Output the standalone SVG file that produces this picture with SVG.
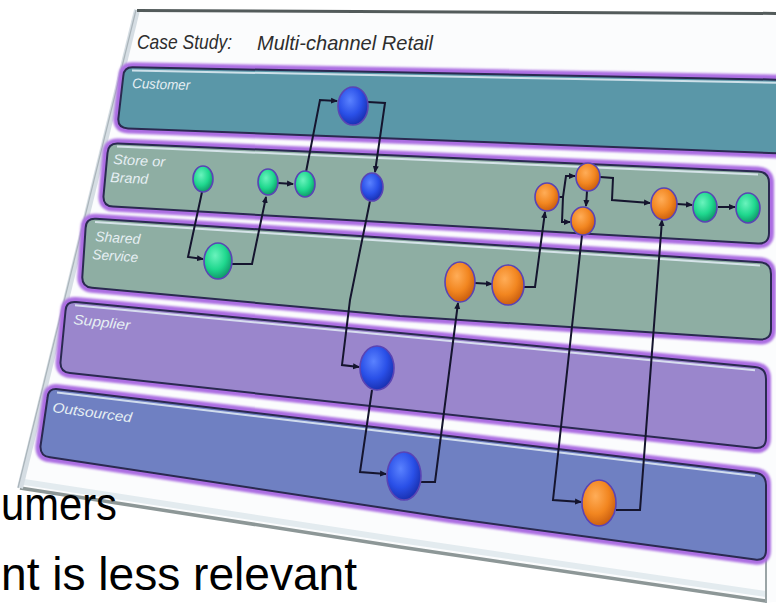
<svg xmlns="http://www.w3.org/2000/svg" width="776" height="613" viewBox="0 0 776 613">
  <defs>
    <style>
      .lane-name { font-family: "Liberation Sans", Arial, sans-serif; font-style: italic; font-size: 14px; fill: #e6eff3; }
      .title { font-family: "Liberation Sans", Arial, sans-serif; font-style: italic; font-size: 21px; fill: #2e2e2e; }
      .body { font-family: "Liberation Sans", Arial, sans-serif; font-size: 46px; fill: #000; }
      .glow { fill: none; stroke: #ac6ee2; stroke-width: 10; filter: url(#soft); }
      .lane { stroke: #2a2a50; stroke-width: 2; stroke-linejoin: round; }
      .hl { fill: none; stroke: #e2ecf4; stroke-width: 2; opacity: 0.85; }
      .wire { fill: none; stroke: #15152e; stroke-width: 2; stroke-linejoin: miter; marker-end: url(#ah); }
      .node { stroke: #5a44b4; stroke-width: 1.6; }
      .g { fill: url(#gGreen); }
      .b { fill: url(#gBlue); }
      .o { fill: url(#gOrange); }
    </style>
    <filter id="soft" x="-5%" y="-30%" width="110%" height="160%">
      <feGaussianBlur stdDeviation="1.3"/>
    </filter>
    <radialGradient id="gGreen" cx="40%" cy="35%" r="65%">
      <stop offset="0" stop-color="#6af3bd"/>
      <stop offset="0.6" stop-color="#1fd88e"/>
      <stop offset="1" stop-color="#119a6a"/>
    </radialGradient>
    <radialGradient id="gBlue" cx="40%" cy="35%" r="65%">
      <stop offset="0" stop-color="#5a82ff"/>
      <stop offset="0.6" stop-color="#2a50e8"/>
      <stop offset="1" stop-color="#1a32b4"/>
    </radialGradient>
    <radialGradient id="gOrange" cx="40%" cy="35%" r="65%">
      <stop offset="0" stop-color="#ffad58"/>
      <stop offset="0.6" stop-color="#f28620"/>
      <stop offset="1" stop-color="#cc6010"/>
    </radialGradient>
    <marker id="ah" markerWidth="7" markerHeight="7" refX="6" refY="3.5" orient="auto" markerUnits="userSpaceOnUse">
      <path d="M0,0.5 L7,3.5 L0,6.5 Z" fill="#15152e"/>
    </marker>
  </defs>

  <rect width="776" height="613" fill="#ffffff"/>

  <!-- slide sheet seen at an angle -->
  <g id="slide">
    <polygon points="137,10 790,12 790,600 766,603 20,488" fill="#fbfcfd"/>
    <polyline points="20,488 400,547 766,601" fill="none" stroke="#8d9797" stroke-width="3.5"/>
    <polyline points="24,482 400,540 766,594" fill="none" stroke="#e3ebef" stroke-width="6"/>
    <line x1="137" y1="10" x2="20" y2="488" stroke="#d5dde3" stroke-width="6"/>
    <line x1="136" y1="10" x2="18" y2="488" stroke="#aab4ba" stroke-width="1.2"/>
    <line x1="766" y1="540" x2="766" y2="603" stroke="#9aa4a6" stroke-width="2"/>
    <line x1="137" y1="10.5" x2="790" y2="13.5" stroke="#535b5b" stroke-width="3"/>
    <text class="title" x="137" y="49" textLength="95" lengthAdjust="spacingAndGlyphs">Case Study:</text>
    <text class="title" x="257" y="50" textLength="176" lengthAdjust="spacingAndGlyphs">Multi-channel Retail</text>
  </g>

  <!-- swim lanes -->
  <g id="lane-customer">
    <path class="glow" d="M133,67.3 L795,80 L795,154 L128,128.4 Q118,128 118.3,119 L123.3,76 Q124,67 133,67.3 Z"/>
    <path class="lane" fill="#5a97a8" d="M133,67.3 L795,80 L795,154 L128,128.4 Q118,128 118.3,119 L123.3,76 Q124,67 133,67.3 Z"/>
    <path class="hl" d="M132,70.5 L795,83.2"/>
    <text class="lane-name" x="132" y="88" textLength="58" lengthAdjust="spacingAndGlyphs" transform="rotate(2 132 88)">Customer</text>
  </g>
  <g id="lane-store">
    <path class="glow" d="M118,143.4 L758,171.4 Q769,172 769,183 L769,233 Q769,244 758,243.5 L113,206.6 Q103,206 103.5,196 L107.5,153 Q108,143 118,143.4 Z"/>
    <path class="lane" fill="#8eaea3" d="M118,143.4 L758,171.4 Q769,172 769,183 L769,233 Q769,244 758,243.5 L113,206.6 Q103,206 103.5,196 L107.5,153 Q108,143 118,143.4 Z"/>
    <path class="hl" d="M117,146.6 L758,174.6"/>
    <text class="lane-name" x="113" y="164" textLength="52" lengthAdjust="spacingAndGlyphs" transform="rotate(3 113 164)">Store or</text>
    <text class="lane-name" x="110" y="182" textLength="38" lengthAdjust="spacingAndGlyphs" transform="rotate(3 110 182)">Brand</text>
  </g>
  <g id="lane-shared">
    <path class="glow" d="M96,218.7 L760,262.3 Q771,263 771,274 L771,329 Q771,340 760,339.4 L400,316 L92,287.8 Q82,287 82.3,277 L85.6,228 Q86,218 96,218.7 Z"/>
    <path class="lane" fill="#8eaea3" d="M96,218.7 L760,262.3 Q771,263 771,274 L771,329 Q771,340 760,339.4 L400,316 L92,287.8 Q82,287 82.3,277 L85.6,228 Q86,218 96,218.7 Z"/>
    <path class="hl" d="M95,221.9 L760,265.5"/>
    <text class="lane-name" x="95" y="241" textLength="45" lengthAdjust="spacingAndGlyphs" transform="rotate(4 95 241)">Shared</text>
    <text class="lane-name" x="92" y="259" textLength="46" lengthAdjust="spacingAndGlyphs" transform="rotate(4 92 259)">Service</text>
  </g>
  <g id="lane-supplier">
    <path class="glow" d="M76,302 L755,367 Q766,368 766,379 L766,438 Q766,449 755,448 L70,373 Q60,372 60.5,362 L65.5,311 Q66,301 76,302 Z"/>
    <path class="lane" fill="#9a86cc" d="M76,302 L755,367 Q766,368 766,379 L766,438 Q766,449 755,448 L70,373 Q60,372 60.5,362 L65.5,311 Q66,301 76,302 Z"/>
    <path class="hl" d="M75,305.2 L755,370.2"/>
    <text class="lane-name" x="73" y="324" textLength="57" lengthAdjust="spacingAndGlyphs" transform="rotate(6 73 324)">Supplier</text>
  </g>
  <g id="lane-outsourced">
    <path class="glow" d="M58,389.2 L755,472.7 Q766,474 766,485 L766,550 Q766,561 755,559.5 L450,518 L50,457.3 Q40,456 40.5,446 L47.5,398 Q48,388 58,389.2 Z"/>
    <path class="lane" fill="#6f80c2" d="M58,389.2 L755,472.7 Q766,474 766,485 L766,550 Q766,561 755,559.5 L450,518 L50,457.3 Q40,456 40.5,446 L47.5,398 Q48,388 58,389.2 Z"/>
    <path class="hl" d="M57,392.4 L755,475.9"/>
    <text class="lane-name" x="52" y="412" textLength="80" lengthAdjust="spacingAndGlyphs" transform="rotate(7.5 52 412)">Outsourced</text>
  </g>

  <!-- process flow connectors -->
  <g id="connectors">
    <polyline class="wire" points="202,192 188,257 203,259"/>
    <polyline class="wire" points="232,264 252,264 266,197"/>
    <polyline class="wire" points="278,183 293,184"/>
    <polyline class="wire" points="306,172 320,100 337,101"/>
    <polyline class="wire" points="368,102 385,103 375,172"/>
    <polyline class="wire" points="370,201 350,300 342,365 359,367"/>
    <polyline class="wire" points="372,390 360,472 386,474"/>
    <polyline class="wire" points="421,482 435,482 458,303"/>
    <polyline class="wire" points="475,283 492,284"/>
    <polyline class="wire" points="524,287 535,287 545,212"/>
    <polyline class="wire" points="559,197 563,197 566,176 575,176"/>
    <polyline class="wire" points="563,197 562,222 570,222"/>
    <polyline class="wire" points="587,191 586,206"/>
    <polyline class="wire" points="600,177 613,178 612,200 650,203"/>
    <polyline class="wire" points="677,204 692,205"/>
    <polyline class="wire" points="718,207 735,207"/>
    <polyline class="wire" points="582,235 553,500 581,502"/>
    <polyline class="wire" points="616,510 640,510 662,220"/>
  </g>

  <!-- process steps -->
  <g id="n-customer"><ellipse class="node b" cx="353" cy="106" rx="15" ry="19"/></g>
  <g id="n-store-1"><ellipse class="node g" cx="203" cy="179" rx="10" ry="13"/></g>
  <g id="n-store-2"><ellipse class="node g" cx="268" cy="182" rx="10" ry="13"/></g>
  <g id="n-store-3"><ellipse class="node g" cx="305" cy="184" rx="10" ry="13"/></g>
  <g id="n-store-4"><ellipse class="node b" cx="372" cy="187" rx="11" ry="14"/></g>
  <g id="n-store-5"><ellipse class="node o" cx="547" cy="197" rx="12" ry="14"/></g>
  <g id="n-store-6"><ellipse class="node o" cx="588" cy="177" rx="12" ry="14"/></g>
  <g id="n-store-7"><ellipse class="node o" cx="583" cy="221" rx="12" ry="14"/></g>
  <g id="n-store-8"><ellipse class="node o" cx="664" cy="204" rx="13" ry="16"/></g>
  <g id="n-store-9"><ellipse class="node g" cx="705" cy="207" rx="12" ry="15"/></g>
  <g id="n-store-10"><ellipse class="node g" cx="748" cy="208" rx="12" ry="15"/></g>
  <g id="n-shared-1"><ellipse class="node g" cx="218" cy="261" rx="14" ry="18"/></g>
  <g id="n-shared-2"><ellipse class="node o" cx="460" cy="282" rx="15" ry="20"/></g>
  <g id="n-shared-3"><ellipse class="node o" cx="508" cy="285" rx="16" ry="20"/></g>
  <g id="n-supplier"><ellipse class="node b" cx="377" cy="368" rx="17" ry="22"/></g>
  <g id="n-outsourced-1"><ellipse class="node b" cx="404" cy="476" rx="17" ry="24"/></g>
  <g id="n-outsourced-2"><ellipse class="node o" cx="599" cy="503" rx="17" ry="23"/></g>

  <!-- page text around the sheet -->
  <text class="body" x="1" y="520" textLength="116" lengthAdjust="spacingAndGlyphs">umers</text>
  <text class="body" x="1" y="590" textLength="356" lengthAdjust="spacingAndGlyphs">nt is less relevant</text>
</svg>
